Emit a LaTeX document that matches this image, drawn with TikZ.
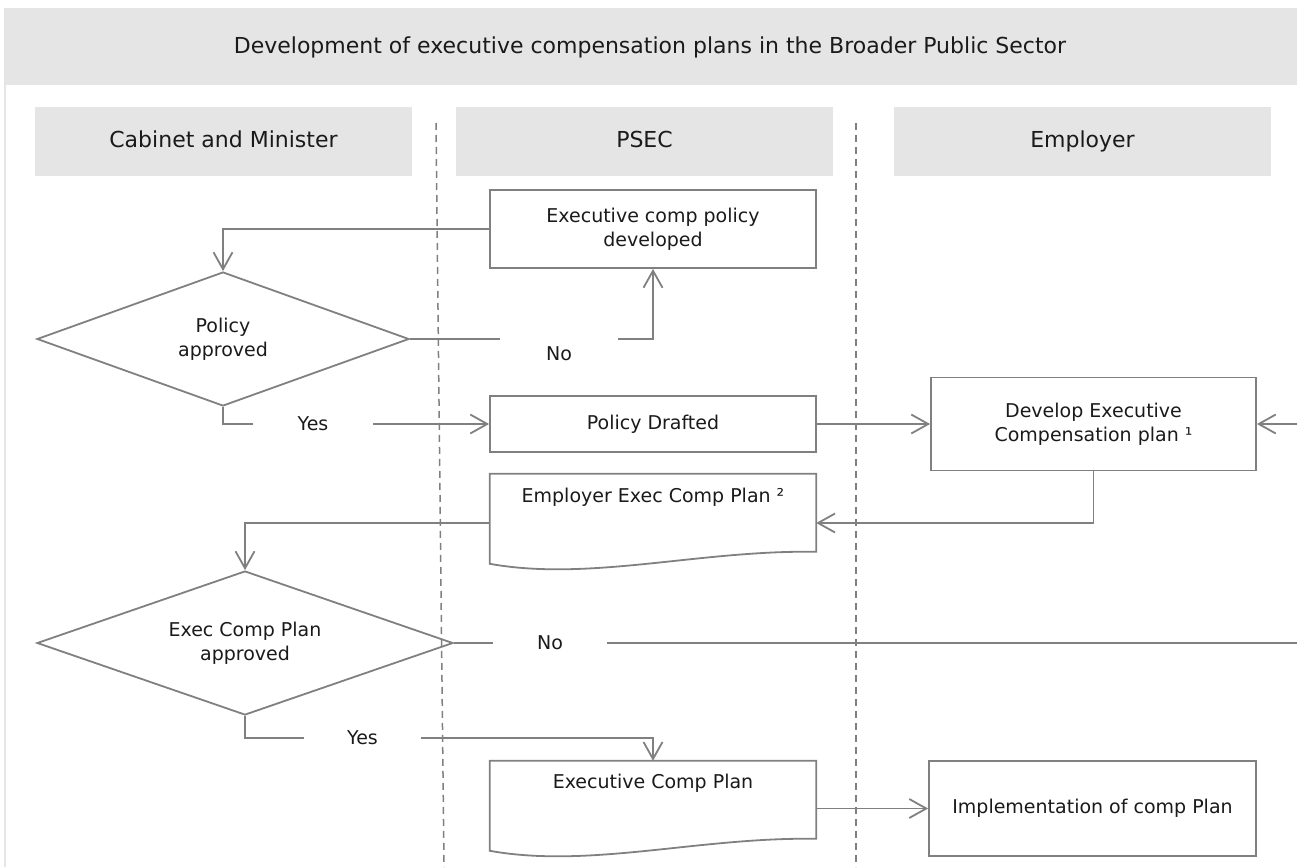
\documentclass[tikz,border=0pt]{standalone}
\usepackage{fontspec}
\setmainfont{DejaVu Sans}
\usetikzlibrary{shapes.geometric,arrows.meta,calc}
\definecolor{ln}{RGB}{128,128,128}
\definecolor{hdr}{RGB}{229,229,229}
\definecolor{txt}{RGB}{26,26,26}
\begin{document}
\begin{tikzpicture}[x=1pt,y=-1pt,
  every node/.style={font=\fontsize{19}{24}\selectfont, text=txt},
  headfont/.style={font=\fontsize{22}{26}\selectfont},
  box/.style={draw=ln, line width=1.8pt, rectangle, inner sep=0pt, align=center},
  docbox/.style={rectangle, inner sep=0pt, minimum width=326pt, minimum height=98pt},
  dia/.style={draw=ln, line width=1.8pt, diamond, inner sep=0pt, align=center},
  conn/.style={draw=ln, line width=1.8pt},
  arr/.style={conn, -{Straight Barb[length=17pt,width=19pt]}},
  lane/.style={fill=hdr, inner sep=0pt, minimum height=69pt, minimum width=377pt, headfont, text height=16pt, text depth=5pt},
  gaplabel/.style={inner sep=0pt, minimum height=20pt},
  sepline/.style={draw=ln, line width=1.5pt, dash pattern=on 7pt off 5pt},
]
\useasboundingbox (0,0) rectangle (1297,867);
% header band
\fill[hdr] (4,8) rectangle (1297,85);
\draw[hdr, line width=2pt] (5,85) -- (5,867);
\node[headfont] (title) at (650,47) {Development of executive compensation plans in the Broader Public Sector};
% lanes
\node[lane] (lc) at (223.5,141.5) {Cabinet and Minister};
\node[lane] (lp) at (644.5,141.5) {PSEC};
\node[lane] (le) at (1082.5,141.5) {Employer};
% lane separators
\coordinate (s1t) at (436,123);
\coordinate (s1b) at (444,867);
\coordinate (s2t) at (856,123);
\coordinate (s2b) at (856,867);
\draw[sepline] (s1t) -- (s1b);
\draw[sepline] (s2t) -- (s2b);
% nodes
\node[box, minimum width=326pt, minimum height=78pt] (ecp) at (653,229) {Executive comp policy\\developed};
\node[dia, shape aspect=2.78, minimum width=372pt, minimum height=134pt] (d1) at (223,339) {Policy\\approved};
\node[box, minimum width=326pt, minimum height=56pt] (pd) at (653,424) {Policy Drafted};
\node[box, minimum width=325pt, minimum height=93pt] (dev) at (1093.5,424) {Develop Executive\\Compensation plan ¹};
\node[docbox] (docA) at (653,523) {};
\node (docAtxt) at (653,497) {Employer Exec Comp Plan ²};
\node[dia, shape aspect=2.89, minimum width=416pt, minimum height=144pt] (d2) at (245,643) {Exec Comp Plan\\approved};
\node[docbox] (docB) at (653,810) {};
\node (docBtxt) at (653,783) {Executive Comp Plan};
\node[box, minimum width=327pt, minimum height=95pt] (impl) at (1092.5,808.5) {Implementation of comp Plan};
% document outlines
\foreach \d in {docA,docB}{
  \draw[conn] (\d.north west) -- (\d.north east) -- ($(\d.north east)+(0,78)$)
    .. controls ($(\d.north west)+(210,76)$) and ($(\d.north west)+(100,108)$) .. ($(\d.north west)+(0,90)$) -- cycle;
}
% labels on connectors
\node[gaplabel, minimum width=118pt] (noA) at (559,354) {No};
\node[gaplabel, minimum width=120pt] (yesA) at (313,424) {Yes};
\node[gaplabel, minimum width=114pt] (noB) at (550,643) {No};
\node[gaplabel, minimum width=117pt] (yesB) at (362.5,738) {Yes};
\coordinate (rin) at (1297,424);
\coordinate (rout) at (1297,643);
% connectors
\draw[arr] (ecp.west) -| (d1.north);
\draw[conn] (d1.east) -- (noA.west |- d1.east);
\draw[arr] (noA.east |- d1.east) -| (ecp.south);
\draw[conn] (d1.south) |- (yesA.west);
\draw[arr] (yesA.east) -- (pd.west);
\draw[arr] (pd.east) -- (dev.west);
\draw[arr] (rin) -- (dev.east);
\draw[arr] (dev.south) |- (docA.east);
\draw[arr] (docA.west) -| (d2.north);
\draw[conn] (d2.east) -- (noB.west);
\draw[conn] (noB.east) -- (rout);
\draw[conn] (d2.south) |- (yesB.west);
\draw[arr] (yesB.east) -| (docB.north);
\draw[arr] (docB.east |- impl.west) -- (impl.west);
\end{tikzpicture}
\end{document}
